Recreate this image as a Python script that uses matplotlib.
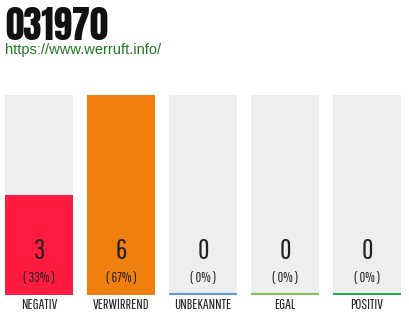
import matplotlib
matplotlib.use("Agg")
import matplotlib.pyplot as plt

# Daten
categories = ["NEGATIV", "VERWIRREND", "UNBEKANNTE", "EGAL", "POSITIV"]
counts = [3, 6, 0, 0, 0]
percents = ["( 33% )", "( 67% )", "( 0% )", "( 0% )", "( 0% )"]
colors = ["#ff1a40", "#f17f0e", "#5b9be0", "#78c84e", "#1fb148"]
title = "031970"
url = "https://www.werruft.info/"

thin = ["Pathway Gothic One", "DejaVu Sans"]

fig = plt.figure(figsize=(4.1, 3.2), dpi=100)
fig.patch.set_facecolor("white")

# Balkenbereich: x 5..401 px, y 95..295 px
ax = fig.add_axes([5 / 410, 25 / 320, 396 / 410, 200 / 320])
w = 68 / 82
x = list(range(len(categories)))
ymax = max(counts)

ax.bar(x, [ymax] * len(x), width=w, color="#eeeeee", zorder=1)
ax.bar(x, counts, width=w, color=colors, zorder=2)
for i, c in enumerate(colors):
    ax.hlines(0.02, i - w / 2, i + w / 2, color=c, lw=1.5, zorder=3)

ax.set_xlim(-w / 2, len(x) - 1 + w / 2)
ax.set_ylim(0, ymax)
ax.axis("off")

for i in x:
    ax.text(i, ymax * 0.22, str(counts[i]), ha="center", va="center",
            fontsize=20, family=thin, color="#222222", zorder=4)
    ax.text(i, ymax * 0.087, percents[i], ha="center", va="center",
            fontsize=10, family=thin, color="#222222", zorder=4)
    ax.text(i, -ymax * 0.05, categories[i], ha="center", va="center",
            fontsize=10.5, family=thin, color="#222222", clip_on=False)

fig.text(5 / 410, 1 - 40 / 320, title, ha="left", va="baseline",
         fontsize=26.5, family=["Anton", "DejaVu Sans"], color="#111111")
fig.text(5 / 410, 1 - 54 / 320, url, ha="left", va="baseline",
         fontsize=10.5, family=["Liberation Sans", "DejaVu Sans"], color="#1e7a1e")

fig.savefig("out.png", dpi=100)
